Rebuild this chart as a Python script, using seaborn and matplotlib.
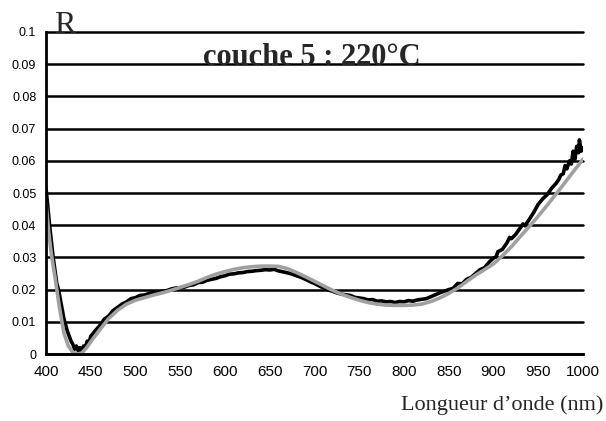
import matplotlib
matplotlib.use("Agg")
import matplotlib.pyplot as plt
import seaborn as sns
import pandas as pd

# Measured reflectance (noisy spectrum)
measured_nm = [400, 402, 404, 406, 408, 410, 412, 414, 416, 418, 420, 422, 424, 426, 428,
               430, 432, 434, 436, 438, 440, 442, 444, 446, 448, 450, 455, 460, 465, 470,
               475, 480, 485, 490, 495, 500, 505, 510, 515, 520, 525, 530, 535, 540, 545,
               550, 555, 560, 565, 570, 575, 580, 585, 590, 595, 600, 605, 610, 615, 620,
               625, 630, 635, 640, 645, 650, 655, 660, 665, 670, 675, 680, 685, 690, 695,
               700, 705, 710, 715, 720, 725, 730, 735, 740, 745, 750, 755, 760, 765, 770,
               775, 780, 785, 790, 795, 800, 805, 810, 815, 820, 825, 830, 835, 840, 845,
               850, 855, 860, 865, 870, 875, 880, 885, 890, 895, 900, 903, 905, 910, 915,
               918, 920, 925, 930, 933, 935, 940, 945, 948, 950, 955, 960, 965, 970, 973,
               975, 978, 980, 982, 985, 987, 989, 991, 993, 995, 996, 998, 1000]
measured_R = [0.0515, 0.046, 0.040, 0.035, 0.030, 0.026, 0.022, 0.020, 0.017, 0.014, 0.011,
              0.009, 0.007, 0.0055, 0.004, 0.003, 0.0015, 0.0025, 0.001, 0.002, 0.0008,
              0.0025, 0.002, 0.004, 0.0035, 0.0055, 0.0072, 0.0088, 0.0108, 0.0118, 0.0135,
              0.0145, 0.0155, 0.0162, 0.0172, 0.0175, 0.0182, 0.0183, 0.0188, 0.0190, 0.0192,
              0.0195, 0.0197, 0.0202, 0.0205, 0.0206, 0.0208, 0.0213, 0.0215, 0.0222, 0.0223,
              0.0229, 0.0232, 0.0235, 0.0240, 0.0243, 0.0248, 0.0249, 0.0252, 0.0253, 0.0256,
              0.0257, 0.0259, 0.0260, 0.0262, 0.0261, 0.0263, 0.0258, 0.0255, 0.0252, 0.0248,
              0.0243, 0.0238, 0.0232, 0.0225, 0.0219, 0.0212, 0.0205, 0.0199, 0.0195, 0.0190,
              0.0186, 0.0184, 0.0182, 0.0176, 0.0174, 0.0172, 0.0168, 0.0169, 0.0164, 0.0165,
              0.0162, 0.0163, 0.0160, 0.0163, 0.0162, 0.0166, 0.0164, 0.0168, 0.0170, 0.0172,
              0.0178, 0.0184, 0.0190, 0.0195, 0.0200, 0.0204, 0.0219, 0.0218, 0.0232, 0.0238,
              0.0250, 0.0262, 0.0268, 0.0285, 0.0298, 0.0302, 0.0318, 0.0325, 0.0345, 0.0362,
              0.0358, 0.0372, 0.0392, 0.0404, 0.0398, 0.0418, 0.0440, 0.0455, 0.0465, 0.0482,
              0.0495, 0.0515, 0.0530, 0.0542, 0.0555, 0.0560, 0.0585, 0.0575, 0.0600, 0.0590,
              0.0630, 0.0605, 0.0645, 0.0625, 0.0665, 0.0630, 0.0640]

# Fitted reflectance (smooth model)
fit_nm = [400, 403, 406, 410, 415, 420, 425, 430, 435, 440, 445, 450, 460, 470, 480, 490,
          500, 510, 520, 530, 540, 550, 560, 570, 580, 590, 600, 610, 620, 630, 640, 650,
          660, 670, 680, 690, 700, 710, 720, 730, 740, 750, 760, 770, 780, 790, 800, 810,
          820, 830, 840, 850, 860, 870, 880, 890, 900, 910, 920, 930, 940, 950, 960, 970,
          980, 990, 1000]
fit_R = [0.047, 0.038, 0.031, 0.024, 0.0145, 0.0065, 0.0025, 0.0005, 0.0, 0.0003, 0.0018,
         0.0038, 0.0075, 0.0110, 0.0136, 0.0155, 0.0167, 0.0175, 0.0183, 0.0190, 0.0198,
         0.0207, 0.0216, 0.0226, 0.0238, 0.0248, 0.0256, 0.0263, 0.0268, 0.0271, 0.0273,
         0.0273, 0.0272, 0.0265, 0.0253, 0.0240, 0.0226, 0.0212, 0.0198, 0.0186, 0.0176,
         0.0167, 0.0160, 0.0155, 0.0152, 0.0151, 0.0151, 0.0152, 0.0155, 0.0163, 0.0174,
         0.0188, 0.0205, 0.0225, 0.0245, 0.0262, 0.0280, 0.0305, 0.0333, 0.0365, 0.0396,
         0.0428, 0.0462, 0.0497, 0.0533, 0.0569, 0.0605]

x_ticks = [400, 450, 500, 550, 600, 650, 700, 750, 800, 850, 900, 950, 1000]
y_ticks = [0, 0.01, 0.02, 0.03, 0.04, 0.05, 0.06, 0.07, 0.08, 0.09, 0.1]
y_tick_labels = ["0", "0.01", "0.02", "0.03", "0.04", "0.05", "0.06", "0.07", "0.08", "0.09", "0.1"]

title_text = "couche 5 : 220°C"
y_label = "R"
x_label = "Longueur d\u2019onde (nm)"

sns.set_style("white")
plt.rcParams["font.family"] = ["Liberation Sans", "DejaVu Sans"]

measured = pd.DataFrame({"nm": measured_nm, "R": measured_R})
fit = pd.DataFrame({"nm": fit_nm, "R": fit_R})

fig = plt.figure(figsize=(6.06, 4.21), dpi=100)
ax = fig.add_axes([0.0759, 0.1591, 0.8861, 0.7649])

sns.lineplot(data=measured, x="nm", y="R", ax=ax, color="black", linewidth=2.6,
             estimator=None, sort=False, zorder=3)
sns.lineplot(data=fit, x="nm", y="R", ax=ax, color="#a0a0a0", linewidth=2.6,
             estimator=None, sort=False, zorder=4)

ax.set_xlim(400, 1000)
ax.set_ylim(0, 0.1)
ax.set_xticks(x_ticks)
ax.set_xticklabels([str(v) for v in x_ticks], fontsize=11)
ax.set_yticks(y_ticks)
ax.set_yticklabels(y_tick_labels, fontsize=9)
ax.set_xlabel("")
ax.set_ylabel("")

for side in ["top", "right"]:
    ax.spines[side].set_visible(False)
for side in ["left", "bottom"]:
    ax.spines[side].set_color("black")
    ax.spines[side].set_linewidth(2)
    ax.spines[side].set_zorder(5)

ax.tick_params(axis="both", which="major", direction="out", length=5, width=2,
               color="black", labelcolor="black", pad=2)
ax.tick_params(axis="x", pad=3)

ax.yaxis.grid(True, color="black", linewidth=1.8)
ax.xaxis.grid(False)
ax.set_axisbelow(True)
for gl in ax.get_ygridlines():
    gl.set_clip_on(False)

ax.text(697, 0.0897, title_text, ha="center", va="baseline", fontsize=22,
        fontweight="bold", family=["Liberation Serif", "DejaVu Serif"], zorder=6)

fig.text(54 / 606, 1 - 33 / 421, y_label, ha="left", va="baseline", fontsize=23,
         family=["Liberation Serif", "DejaVu Serif"])
fig.text(603 / 606, 1 - 410 / 421, x_label, ha="right", va="baseline", fontsize=16,
         family=["Liberation Serif", "DejaVu Serif"])

fig.savefig("out.png", dpi=100)
